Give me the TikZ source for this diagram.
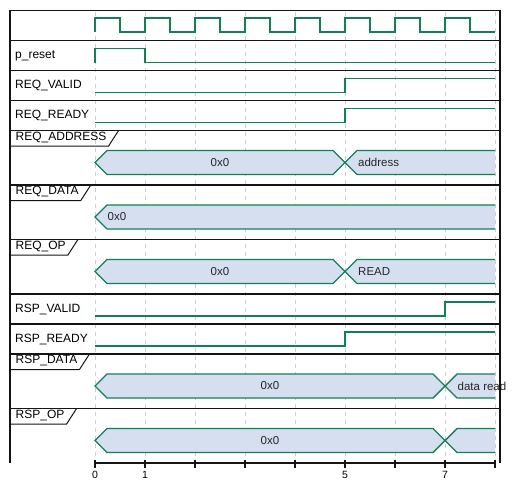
\documentclass[tikz,border=0pt]{standalone}
\usepackage{fontspec}
\setmainfont{Liberation Sans}
\usetikzlibrary{calc}
\definecolor{wave}{RGB}{18,128,84}
\definecolor{busfill}{RGB}{214,223,240}
\definecolor{gridc}{RGB}{205,205,205}
\definecolor{framec}{RGB}{20,20,20}
\tikzset{
  wavel/.style={draw=wave,line width=1.4pt,line join=miter},
  frameline/.style={draw=framec,line width=1.3pt},
  gridline/.style={draw=gridc,line width=0.7pt,dash pattern=on 4pt off 4pt},
  lbl/.style={inner sep=0pt,font=\fontsize{12}{14}\selectfont,text=black},
  val/.style={inner sep=0pt,font=\fontsize{11.5}{13}\selectfont,text=black!85},
  ticklbl/.style={inner sep=0pt,font=\fontsize{10.5}{12}\selectfont,text=black},
}
% bus segment with chevrons at both ends: a, b, middle y
\newcommand\tdbusmid[3]{%
  \fill[busfill] (#1,#3) -- (#1+12,#3-12) -- (#2-12,#3-12) -- (#2,#3) -- (#2-12,#3+12) -- (#1+12,#3+12) -- cycle;
  \draw[wavel] (#1,#3) -- (#1+12,#3-12) -- (#2-12,#3-12) -- (#2,#3) -- (#2-12,#3+12) -- (#1+12,#3+12) -- cycle;}
% bus segment open at the right end (x=495): a, middle y
\newcommand\tdbusend[2]{%
  \fill[busfill] (#1,#2) -- (#1+12,#2-12) -- (495,#2-12) -- (495,#2+12) -- (#1+12,#2+12) -- cycle;
  \draw[wavel] (495,#2-12) -- (#1+12,#2-12) -- (#1,#2) -- (#1+12,#2+12) -- (495,#2+12);}
% bus row label: name, row top, text
\newcommand\tdbuslabel[3]{%
  \node[lbl,anchor=base west] (#1) at (15.5,#2+9.8) {#3};
  \coordinate (#1b) at (10,#2+15.5);
  \coordinate (#1c) at ($(#1.east)+(2,0)$);
  \draw[frameline,line width=1pt] (#1b) -- (#1c |- #1b) -- ($(#1c |- #1b)+(10,-15.5)$);}
\begin{document}
\begin{tikzpicture}[x=1pt,y=-1pt]
\useasboundingbox (0,0) rectangle (520,491);
% grid
\foreach \i in {0,...,8} {
  \draw[gridline] (95+50*\i,12) -- (95+50*\i,460);
}
% clock
\draw[wavel] (95,32) -- (95,18)
  \foreach \i in {0,...,6} { -- (95+50*\i,18) -- (120+50*\i,18) -- (120+50*\i,32) -- (145+50*\i,32) -- (145+50*\i,18) }
  -- (470,18) -- (470,32) -- (495,32);
% p_reset
\node[lbl,anchor=west] (lreset) at (15,55.5) {p\_reset};
\draw[wavel] (95,62.5) -- (95,48.5) -- (145,48.5) -- (145,62.5) -- (495,62.5);
% REQ_VALID
\node[lbl,anchor=west] (lreqvalid) at (15,85.5) {REQ\_VALID};
\draw[wavel] (95,92.5) -- (345,92.5) -- (345,78.5) -- (495,78.5);
% REQ_READY
\node[lbl,anchor=west] (lreqready) at (15,115.5) {REQ\_READY};
\draw[wavel] (95,122.5) -- (345,122.5) -- (345,108.5) -- (495,108.5);
% REQ_ADDRESS
\tdbuslabel{lreqaddr}{130.5}{REQ\_ADDRESS}
\tdbusmid{95}{345}{162.5}
\tdbusend{345}{162.5}
\node[val] (vaddr0) at (220,162.5) {0x0};
\node[val,anchor=west] (vaddr1) at (358,162.5) {address};
% REQ_DATA
\tdbuslabel{lreqdata}{185}{REQ\_DATA}
\tdbusend{95}{217}
\node[val,anchor=west] (vdata0) at (107.5,217) {0x0};
% REQ_OP
\tdbuslabel{lreqop}{239.5}{REQ\_OP}
\tdbusmid{95}{345}{271.5}
\tdbusend{345}{271.5}
\node[val] (vop0) at (220,271.5) {0x0};
\node[val,anchor=west] (vop1) at (358,271.5) {READ};
% RSP_VALID
\node[lbl,anchor=west] (lrspvalid) at (15,309) {RSP\_VALID};
\draw[wavel] (95,316) -- (445,316) -- (445,302) -- (495,302);
% RSP_READY
\node[lbl,anchor=west] (lrspready) at (15,339) {RSP\_READY};
\draw[wavel] (95,346) -- (345,346) -- (345,332) -- (495,332);
% RSP_DATA
\tdbuslabel{lrspdata}{354}{RSP\_DATA}
\tdbusmid{95}{445}{386}
\tdbusend{445}{386}
\node[val] (vrdata0) at (270,386) {0x0};
\node[val,anchor=west] (vrdata1) at (457.5,386) {data read};
% RSP_OP
\tdbuslabel{lrspop}{408.5}{RSP\_OP}
\tdbusmid{95}{445}{440.5}
\tdbusend{445}{440.5}
\node[val] (vrop0) at (270,440.5) {0x0};
% frame
\foreach \y in {10.5,40.5,70.5,100.5,130.5,185,239.5,294,324,354,408.5} {
  \draw[frameline] (9.4,\y) -- (500.6,\y);
}
\draw[frameline] (10,10.5) -- (10,462.5);
\draw[frameline] (500,10.5) -- (500,462.5);
% time axis
\coordinate (ax0) at (95,463);
\coordinate (ax8) at (495,463);
\draw[frameline,line width=1.5pt] (ax0) -- (ax8);
\foreach \i in {0,...,8} {
  \draw[frameline,line width=1.5pt] (95+50*\i,459.5) -- (95+50*\i,467.5);
}
\foreach \i/\n in {0/t0,1/t1,5/t5,7/t7} {
  \node[ticklbl] (\n) at (95+50*\i,475) {\i};
}
\end{tikzpicture}
\end{document}
